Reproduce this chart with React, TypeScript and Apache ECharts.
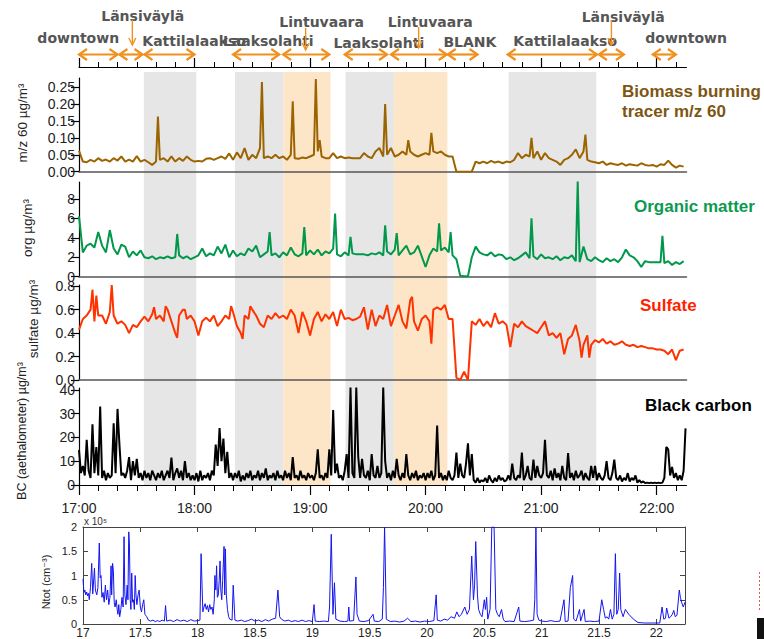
import React, { useEffect, useRef } from 'react';
import * as echarts from 'echarts';

// ---------- DATA (time in minutes after 17:00) ----------
// Biomass burning tracer m/z 60, µg/m³, every 2 min from 17:00
const biomassBase = [
  0.062, 0.03, 0.028, 0.035, 0.03, 0.04, 0.032, 0.036, 0.03, 0.04,
  0.033, 0.045, 0.03, 0.036, 0.03, 0.046, 0.03, 0.035, 0.028, 0.02,
  0.03, 0.035, 0.04, 0.03, 0.045, 0.03, 0.04, 0.032, 0.045, 0.035,
  0.03, 0.032, 0.03, 0.038, 0.04, 0.035, 0.04, 0.045, 0.038, 0.054,
  0.035, 0.057, 0.04, 0.07, 0.035, 0.05, 0.04, 0.07, 0.04, 0.045,
  0.04, 0.05, 0.04, 0.045, 0.035, 0.05, 0.04, 0.038, 0.042, 0.04,
  0.045, 0.05, 0.06, 0.045, 0.04, 0.04, 0.055, 0.04, 0.045, 0.04,
  0.042, 0.04, 0.04, 0.04, 0.055, 0.045, 0.04, 0.06, 0.07, 0.045,
  0.05, 0.07, 0.045, 0.05, 0.06, 0.05, 0.06, 0.05, 0.045, 0.05,
  0.055, 0.05, 0.06, 0.055, 0.06, 0.05, 0.045, 0.045, 0.0, 0.0,
  0.0, 0.0, 0.0, 0.03, 0.025, 0.03, 0.025, 0.032, 0.027, 0.03,
  0.025, 0.03, 0.028, 0.035, 0.055, 0.04, 0.05, 0.045, 0.04, 0.06,
  0.035, 0.055, 0.04, 0.035, 0.03, 0.02, 0.035, 0.04, 0.05, 0.066,
  0.04, 0.06, 0.035, 0.03, 0.028, 0.025, 0.03, 0.02, 0.025, 0.022,
  0.02, 0.025, 0.018, 0.022, 0.02, 0.018, 0.025, 0.02, 0.018, 0.02,
  0.015, 0.022, 0.02, 0.033, 0.02, 0.012, 0.018, 0.015,
];
const biomassSpikes: [number, number][] = [
  [41, 0.163], [95, 0.265], [111, 0.208], [123, 0.274], [125, 0.093],
  [159, 0.2], [171, 0.093], [183, 0.115], [235, 0.1], [263, 0.11],
];

// Organic matter, µg/m³, every 2 min
const organicBase = [
  6.2, 2.5, 3.2, 3.4, 3.0, 4.6, 3.2, 2.5, 4.8, 2.9,
  2.3, 3.3, 3.1, 2.0, 2.6, 2.2, 2.7, 2.0, 1.9, 2.1,
  1.8, 2.0, 1.9, 2.1, 1.9, 2.0, 2.2, 1.9, 2.1, 1.8,
  2.0, 2.2, 2.9, 2.1, 2.4, 2.2, 3.1, 2.4, 3.3, 2.0,
  2.7, 2.1, 2.4, 2.2, 2.9, 2.6, 3.2, 2.0, 2.3, 2.6,
  2.2, 2.4, 2.0, 2.5, 2.2, 3.0, 2.3, 2.1, 2.4, 2.2,
  2.7, 2.3, 2.8, 2.2, 2.6, 2.4, 2.9, 2.3, 2.1, 2.5,
  2.2, 2.4, 2.3, 2.3, 2.3, 2.2, 2.4, 2.3, 2.5, 2.2,
  2.6, 2.3, 2.8, 2.2, 2.7, 3.2, 2.3, 2.5, 3.2, 2.1,
  1.0, 2.2, 2.9, 2.6, 2.7, 3.0, 2.5, 2.2, 1.8, 0.1,
  0.05, 0.05, 2.0, 3.1, 2.5, 2.3, 2.2, 2.5, 2.1, 2.3,
  2.2, 1.8, 2.0, 1.7, 1.9, 2.2, 2.5, 1.9, 2.1, 1.8,
  2.3, 1.9, 2.0, 1.8, 2.1, 1.7, 2.0, 1.9, 2.2, 1.6,
  1.5, 3.1, 1.8, 1.6, 2.0, 1.7, 1.5, 1.9, 1.6, 1.8,
  1.5, 2.0, 2.8, 2.2, 2.0, 1.6, 1.0, 1.6, 1.5, 1.5,
  1.5, 1.5, 1.4, 1.6, 1.2, 1.5, 1.3, 1.6,
];
const organicSpikes: [number, number][] = [
  [51, 4.4], [99, 4.6], [117, 5.1], [133, 6.5], [141, 4.1], [159, 5.3],
  [165, 4.5], [187, 5.5], [193, 4.6], [235, 6.0], [259, 9.8], [303, 4.2],
];

// Sulfate, µg/m³, every 2 min
const sulfateBase = [
  0.43, 0.52, 0.55, 0.6, 0.5, 0.55, 0.55, 0.48, 0.58, 0.55,
  0.48, 0.5, 0.47, 0.4, 0.47, 0.45, 0.5, 0.54, 0.5, 0.56,
  0.52, 0.55, 0.5, 0.6, 0.5, 0.4, 0.55, 0.6, 0.52, 0.55,
  0.5, 0.38, 0.5, 0.53, 0.5, 0.55, 0.46, 0.5, 0.55, 0.52,
  0.58, 0.46, 0.4, 0.55, 0.52, 0.6, 0.55, 0.48, 0.45, 0.55,
  0.52, 0.57, 0.53, 0.55, 0.52, 0.6, 0.55, 0.4, 0.58, 0.5,
  0.38, 0.52, 0.58, 0.5, 0.56, 0.52, 0.58, 0.46, 0.6, 0.52,
  0.53, 0.51, 0.52, 0.54, 0.62, 0.43, 0.6, 0.46, 0.55, 0.52,
  0.64, 0.46, 0.55, 0.64, 0.5, 0.44, 0.68, 0.5, 0.42, 0.52,
  0.55, 0.5, 0.6, 0.62, 0.6, 0.64, 0.52, 0.52, 0.02, 0.0,
  0.07, 0.0, 0.5, 0.47, 0.52, 0.46, 0.5, 0.45, 0.57, 0.48,
  0.5, 0.47, 0.28, 0.48, 0.45, 0.5, 0.46, 0.44, 0.42, 0.4,
  0.45, 0.5, 0.38, 0.4, 0.36, 0.4, 0.22, 0.35, 0.38, 0.47,
  0.33, 0.3, 0.38, 0.3, 0.34, 0.32, 0.35, 0.31, 0.33, 0.3,
  0.31, 0.33, 0.3, 0.29, 0.3, 0.28, 0.29, 0.28, 0.27, 0.27,
  0.26, 0.26, 0.25, 0.22, 0.26, 0.17, 0.25, 0.26,
];
const sulfateSpikes: [number, number][] = [
  [7, 0.77], [9, 0.72], [17, 0.81], [39, 0.62], [45, 0.63], [51, 0.36],
  [55, 0.6], [79, 0.63], [85, 0.35], [89, 0.63], [173, 0.71], [183, 0.31],
  [261, 0.19], [265, 0.19],
];

// Black carbon (aethalometer), µg/m³, every minute from 17:00
const blackCarbon = [
  14.7, 5, 8, 4, 19, 6, 3, 25.5, 5, 16, 4, 33, 3, 6, 2, 5, 3, 4, 26, 5,
  32, 17, 4, 5, 3, 6, 11.7, 2, 10, 4, 11, 3, 5, 2, 6, 3, 5, 2, 6, 4,
  2, 5, 3, 6, 2, 4, 6, 3, 11.5, 2, 5, 7, 3, 6, 2, 10, 3, 5, 2, 4,
  2, 5, 1.5, 6, 2, 4, 3, 5, 2, 6, 4, 17, 8, 24, 10, 19.5, 5, 14, 3, 5,
  2, 5, 3, 6, 1.5, 4, 2, 5, 3, 6, 2, 4, 3, 6, 2, 5, 3, 7, 2, 4,
  3, 5, 2, 6, 3, 4, 2, 6, 3, 5, 2, 11.7, 3, 4, 2, 6, 3, 4, 2, 5,
  3, 4, 2, 5, 15, 3, 4, 2, 5, 3, 15, 4, 31.5, 5, 9, 3, 4, 2, 6, 13,
  3, 41, 5, 3, 41, 12, 3, 11, 4, 3, 6, 2, 13, 4, 3, 8, 3, 5, 41, 10,
  3, 5, 2, 6, 3, 11, 4, 2, 5, 3, 13, 4, 2, 5, 3, 6, 2, 4, 3, 5,
  2, 5, 3, 6, 2, 4, 25, 3, 5, 2, 4, 2, 6, 3, 2, 4, 13.6, 3, 9, 4,
  3, 9, 17.5, 4, 13, 2, 1, 3, 1, 2, 1.5, 3, 1, 4, 2, 1, 3, 1.5, 4, 2,
  3, 1.5, 2, 4, 2, 9, 3, 2, 4, 3, 13.6, 2, 4, 8, 3, 2, 10.7, 3, 8, 4,
  3, 5, 19, 4, 3, 6, 2, 7, 3, 5, 2, 8, 3, 2, 13.4, 3, 5, 2, 6, 3,
  4, 6, 2, 5, 3, 2, 8, 3, 8, 2, 5, 3, 2, 4, 10, 3, 2, 5, 10.7, 3,
  2, 4, 1.5, 3, 2, 5, 1.5, 3, 2, 4, 1, 2, 1, 1.5, 0.8, 1, 0.8, 1, 0.8, 1,
  0.8, 1, 0.8, 1, 3, 16, 15, 4, 7.6, 3, 5, 2, 4, 2, 6, 23.8,
];

// Ntot (×10^5 cm⁻³) vs decimal hour
const ntot: [number, number][] = [
  [17.0, 0.93], [17.008, 0.65], [17.016, 0.7], [17.024, 0.6], [17.032, 0.66], [17.04, 0.58],
  [17.048, 0.63], [17.055, 0.5], [17.065, 0.75], [17.076, 1.25], [17.085, 0.62], [17.1, 1.15],
  [17.108, 0.7], [17.12, 0.6], [17.13, 0.75], [17.142, 1.67], [17.15, 0.95], [17.157, 1.0],
  [17.165, 0.55], [17.175, 0.65], [17.185, 0.45], [17.195, 0.8], [17.205, 0.5], [17.215, 0.7],
  [17.225, 0.4], [17.235, 0.55], [17.245, 1.2], [17.25, 0.6], [17.258, 1.25], [17.265, 1.1],
  [17.272, 0.45], [17.28, 0.35], [17.29, 0.5], [17.298, 0.3], [17.305, 0.2], [17.312, 0.4],
  [17.32, 0.15], [17.33, 0.3], [17.34, 0.55], [17.35, 0.35], [17.358, 1.8], [17.365, 0.6],
  [17.375, 0.4], [17.385, 0.8], [17.392, 0.5], [17.399, 1.9], [17.405, 1.65], [17.412, 0.5],
  [17.418, 0.3], [17.425, 1.05], [17.432, 0.45], [17.44, 0.5], [17.448, 0.3], [17.455, 1.0],
  [17.462, 0.6], [17.47, 0.4], [17.48, 0.6], [17.49, 0.7], [17.5, 0.35], [17.51, 0.25],
  [17.52, 0.4], [17.53, 0.5], [17.54, 0.2], [17.556, 0.15], [17.57, 0.08], [17.59, 0.06],
  [17.61, 0.08], [17.63, 0.05], [17.65, 0.07], [17.67, 0.05], [17.69, 0.08], [17.71, 0.06],
  [17.72, 0.38], [17.73, 0.06], [17.76, 0.08], [17.79, 0.05], [17.82, 0.09], [17.85, 0.06],
  [17.88, 0.08], [17.91, 0.05], [17.94, 0.09], [17.97, 0.06], [18.0, 0.07], [18.02, 0.08],
  [18.03, 1.45], [18.045, 0.25], [18.055, 0.35], [18.065, 0.42], [18.075, 0.3], [18.085, 0.38],
  [18.095, 0.25], [18.105, 0.4], [18.115, 0.3], [18.125, 0.35], [18.135, 0.2], [18.145, 0.5],
  [18.15, 1.0], [18.158, 0.7], [18.165, 1.2], [18.172, 0.55], [18.18, 0.6], [18.188, 0.9],
  [18.195, 1.3], [18.202, 0.7], [18.21, 0.5], [18.218, 0.9], [18.23, 1.6], [18.236, 0.6],
  [18.242, 1.55], [18.25, 0.6], [18.26, 0.3], [18.27, 0.15], [18.28, 0.1], [18.3, 0.08],
  [18.31, 0.8], [18.325, 0.08], [18.35, 0.06], [18.38, 0.08], [18.41, 0.05], [18.44, 0.07],
  [18.47, 0.1], [18.5, 0.06], [18.53, 0.08], [18.56, 0.05], [18.59, 0.09], [18.62, 0.06],
  [18.65, 0.1], [18.68, 0.12], [18.7, 0.7], [18.715, 0.15], [18.73, 0.1], [18.76, 0.06],
  [18.79, 0.08], [18.82, 0.05], [18.85, 0.07], [18.88, 0.05], [18.91, 0.08], [18.94, 0.05],
  [18.97, 0.07], [19.0, 0.05], [19.015, 0.4], [19.025, 0.06], [19.06, 0.05], [19.1, 0.06],
  [19.14, 0.05], [19.15, 0.35], [19.165, 1.85], [19.18, 0.2], [19.193, 0.85], [19.205, 0.1],
  [19.24, 0.06], [19.28, 0.05], [19.31, 0.06], [19.318, 0.35], [19.325, 0.06], [19.36, 0.07],
  [19.38, 0.97], [19.39, 0.2], [19.41, 0.06], [19.45, 0.05], [19.49, 0.07], [19.53, 0.2],
  [19.54, 0.06], [19.58, 0.05], [19.61, 0.1], [19.62, 0.75], [19.63, 2.0], [19.635, 1.45],
  [19.645, 0.1], [19.68, 0.05], [19.72, 0.06], [19.76, 0.04], [19.8, 0.06], [19.83, 0.12],
  [19.86, 0.05], [19.9, 0.06], [19.94, 0.04], [19.98, 0.06], [20.02, 0.05], [20.06, 0.07],
  [20.08, 0.6], [20.09, 0.08], [20.12, 0.06], [20.15, 0.1], [20.18, 0.08], [20.21, 0.15],
  [20.24, 0.12], [20.26, 0.25], [20.28, 0.15], [20.3, 0.2], [20.33, 0.35], [20.35, 0.2],
  [20.37, 0.3], [20.39, 1.4], [20.405, 0.5], [20.415, 0.8], [20.425, 1.7], [20.44, 0.6],
  [20.45, 0.3], [20.465, 0.2], [20.48, 0.15], [20.5, 0.5], [20.51, 0.3], [20.52, 0.55],
  [20.53, 0.1], [20.55, 0.3], [20.565, 2.0], [20.585, 2.0], [20.6, 0.3], [20.615, 0.2],
  [20.63, 0.15], [20.65, 0.3], [20.665, 0.1], [20.68, 0.05], [20.72, 0.06], [20.76, 0.05],
  [20.8, 0.35], [20.81, 0.06], [20.85, 0.05], [20.89, 0.06], [20.93, 0.08], [20.94, 0.5],
  [20.95, 2.0], [20.96, 0.2], [20.975, 0.08], [21.0, 0.06], [21.04, 0.05], [21.08, 0.07],
  [21.12, 0.05], [21.16, 0.06], [21.195, 0.5], [21.205, 0.05], [21.23, 0.06], [21.25, 0.75],
  [21.27, 1.0], [21.28, 0.1], [21.3, 0.06], [21.33, 0.3], [21.34, 0.06], [21.37, 0.3],
  [21.38, 0.05], [21.42, 0.06], [21.46, 0.05], [21.5, 0.06], [21.524, 0.5], [21.54, 0.3],
  [21.555, 0.12], [21.57, 0.15], [21.585, 0.1], [21.6, 0.3], [21.615, 0.1], [21.63, 0.2],
  [21.643, 1.45], [21.655, 0.2], [21.668, 0.3], [21.68, 1.05], [21.69, 0.3], [21.71, 0.15],
  [21.73, 0.3], [21.76, 0.2], [21.8, 0.1], [21.84, 0.03], [21.9, 0.02], [21.96, 0.02],
  [22.03, 0.02], [22.05, 0.35], [22.065, 0.1], [22.08, 0.12], [22.09, 0.33], [22.11, 0.12],
  [22.125, 0.15], [22.14, 0.2], [22.152, 0.28], [22.165, 0.15], [22.18, 0.18], [22.2, 0.7],
  [22.21, 0.55], [22.22, 0.45], [22.235, 0.35], [22.25, 0.45],
];

// Route segments along the drive (minutes after 17:00)
const routeSegments = [
  { name: 'downtown', start: 0, end: 20 },
  { name: 'Länsiväylä', start: 21, end: 33 },
  { name: 'Kattilalaakso', start: 34, end: 60 },
  { name: 'Laaksolahti', start: 80, end: 104 },
  { name: 'Lintuvaara', start: 106, end: 130 },
  { name: 'Laaksolahti', start: 138, end: 160 },
  { name: 'Lintuvaara', start: 162, end: 191 },
  { name: 'BLANK', start: 191.5, end: 207 },
  { name: 'Kattilalaakso', start: 222.6, end: 269 },
  { name: 'Länsiväylä', start: 270, end: 283 },
  { name: 'downtown', start: 298, end: 310 },
];
// Shaded periods: [start, end, kind] kind 0 = grey, 1 = orange
const shadedPeriods: [number, number, number][] = [
  [33.7, 60.9, 0], [81, 106.2, 0], [106.2, 130.6, 1],
  [138.4, 163.5, 0], [163.5, 191.3, 1], [223.1, 268.6, 0],
];

const hourTicks = [0, 60, 120, 180, 240, 300];
const tenMinTicks = [0, 10, 20, 30, 40, 50, 60, 70, 80, 90, 100, 110, 120, 130, 140, 150, 160,
  170, 180, 190, 200, 210, 220, 230, 240, 250, 260, 270, 280, 290, 300, 310];
const biomassTicks = [0, 0.05, 0.1, 0.15, 0.2, 0.25];
const organicTicks = [0, 2, 4, 6, 8];
const sulfateTicks = [0, 0.2, 0.4, 0.6, 0.8];
const bcTicks = [0, 10, 20, 30, 40];
const ntotYTicks = [0, 0.5, 1, 1.5, 2];
const ntotXTicks = [17, 17.5, 18, 18.5, 19, 19.5, 20, 20.5, 21, 21.5, 22];

// ---------- LAYOUT / STYLE ----------
const X_MAX = 315.5;
const ARROW_Y = 54.5;
const ORANGE = '#f0901e';
// label layout per route segment: [centre time, y row]
const labelLayout: [number, number][] = [
  [-0.4, 38], [33.1, 16], [59.8, 41], [98.3, 41], [126, 22], [155.7, 43],
  [182.4, 22], [203, 42], [252.5, 41], [282.6, 17], [315.3, 38],
];
// down arrows [time, y1, y2]
const downArrows: [number, number, number][] = [
  [27.7, 20, 45], [117.7, 28, 50], [176.4, 27, 48], [276.5, 20, 45],
];

const SANS = '"Liberation Sans", Arial, "DejaVu Sans", sans-serif';

function merge(base: number[], spikes: [number, number][]): [number, number][] {
  const pts: [number, number][] = base.map((v, i) => [i * 2, v]);
  return [...pts, ...spikes].sort((a, b) => a[0] - b[0]);
}

const hourLabel = (v: number) => `${17 + Math.round(v / 60)}:00`;

export default function App() {
  const ref = useRef<HTMLDivElement>(null);

  useEffect(() => {
    if (!ref.current) return;
    const chart = echarts.init(ref.current, undefined, { renderer: 'svg', width: 764, height: 639 });

    const mainGrid = { left: 79, right: 77.5 };
    const grids = [
      { ...mainGrid, top: 0, height: 67 },          // 0 annotation
      { ...mainGrid, top: 78, height: 93.7 },       // 1 biomass
      { ...mainGrid, top: 182, height: 94.7 },      // 2 organic
      { ...mainGrid, top: 285, height: 95 },        // 3 sulfate
      { ...mainGrid, top: 388, height: 97 },        // 4 BC
      { ...mainGrid, top: 72, height: 413 },        // 5 shading background
      { left: 83, right: 79, top: 527, height: 102 }, // 6 Ntot
    ];

    const timeAxisBase = (gridIndex: number) => ({
      type: 'value', gridIndex, min: 0, max: X_MAX, z: 1,
      splitLine: { show: false },
    });
    const zeroLineAxis = (gridIndex: number) => ({
      ...timeAxisBase(gridIndex), position: 'bottom',
      axisLine: { show: true, onZero: false, lineStyle: { color: '#555', width: 1.5 } },
      axisTick: { show: false }, axisLabel: { show: false },
    });

    const xAxis: any[] = [
      { // 0 annotation axis: hour ticks pointing up
        ...timeAxisBase(0), position: 'bottom',
        axisLine: { show: true, onZero: false, lineStyle: { color: '#000', width: 1.2 } },
        axisTick: { show: true, inside: true, length: 9, customValues: hourTicks, lineStyle: { color: '#000', width: 1.2 } },
        axisLabel: { show: false },
      },
      { // 1 annotation axis: 10-min ticks
        ...timeAxisBase(0), position: 'bottom',
        axisLine: { show: false, onZero: false },
        axisTick: { show: true, inside: true, length: 5, customValues: tenMinTicks, lineStyle: { color: '#000', width: 1 } },
        axisLabel: { show: false },
      },
      zeroLineAxis(1), // 2
      zeroLineAxis(2), // 3
      zeroLineAxis(3), // 4
      { // 5 BC axis with hour labels
        ...timeAxisBase(4), position: 'bottom',
        axisLine: { show: true, onZero: false, lineStyle: { color: '#000', width: 1.2 } },
        axisTick: { show: true, length: 10, customValues: hourTicks, lineStyle: { color: '#000', width: 1.2 } },
        axisLabel: {
          show: true, customValues: hourTicks, margin: 16, fontSize: 14, color: '#222', fontFamily: SANS,
          formatter: (v: number) => (v % 60 === 0 ? hourLabel(v) : ''),
        },
      },
      { // 6 BC 10-min ticks
        ...timeAxisBase(4), position: 'bottom',
        axisLine: { show: false, onZero: false },
        axisTick: { show: true, length: 6, customValues: tenMinTicks, lineStyle: { color: '#000', width: 1 } },
        axisLabel: { show: false },
      },
      { ...timeAxisBase(5), show: false }, // 7 shading
      { // 8 Ntot bottom
        type: 'value', gridIndex: 6, min: 17, max: 22.25, position: 'bottom', z: 1,
        splitLine: { show: false },
        axisLine: { show: true, onZero: false, lineStyle: { color: '#444', width: 1 } },
        axisTick: { show: true, inside: true, length: 5, customValues: ntotXTicks, lineStyle: { color: '#444' } },
        axisLabel: {
          show: true, customValues: ntotXTicks, margin: 3, fontSize: 12, color: '#222', fontFamily: SANS,
          formatter: (v: number) => (ntotXTicks.includes(v) ? String(v) : ''),
        },
      },
      { // 9 Ntot top
        type: 'value', gridIndex: 6, min: 17, max: 22.25, position: 'top', z: 1,
        splitLine: { show: false },
        axisLine: { show: true, onZero: false, lineStyle: { color: '#444', width: 1 } },
        axisTick: { show: true, inside: true, length: 5, customValues: ntotXTicks, lineStyle: { color: '#444' } },
        axisLabel: { show: false },
      },
    ];

    const valueAxis = (gridIndex: number, max: number, ticks: number[], digits: number) => ({
      type: 'value', gridIndex, min: 0, max, position: 'left', z: 1,
      splitLine: { show: false },
      axisLine: { show: true, onZero: false, lineStyle: { color: '#000', width: 1.2 } },
      axisTick: { show: true, length: 8, customValues: ticks, lineStyle: { color: '#000', width: 1.2 } },
      axisLabel: {
        show: true, customValues: ticks, margin: 4, fontSize: 14, color: '#222', fontFamily: SANS,
        formatter: (v: number) => (ticks.some((t) => Math.abs(t - v) < 1e-9) ? v.toFixed(digits) : ''),
      },
    });

    const yAxis: any[] = [
      { type: 'value', gridIndex: 0, min: 0, max: 67, inverse: true, show: false },
      valueAxis(1, 0.277, biomassTicks, 2),
      valueAxis(2, 9.75, organicTicks, 0),
      valueAxis(3, 0.81, sulfateTicks, 1),
      valueAxis(4, 40.8, bcTicks, 0),
      { type: 'value', gridIndex: 5, min: 0, max: 1, show: false },
      {
        type: 'value', gridIndex: 6, min: 0, max: 2, position: 'left', z: 1,
        splitLine: { show: false },
        axisLine: { show: true, onZero: false, lineStyle: { color: '#444', width: 1 } },
        axisTick: { show: true, inside: true, length: 5, customValues: ntotYTicks, lineStyle: { color: '#444' } },
        axisLabel: {
          show: true, customValues: ntotYTicks, margin: 6, fontSize: 11, color: '#222', fontFamily: SANS,
          formatter: (v: number) => (ntotYTicks.includes(v) ? String(v) : ''),
        },
      },
      {
        type: 'value', gridIndex: 6, min: 0, max: 2, position: 'right', z: 1,
        splitLine: { show: false },
        axisLine: { show: true, onZero: false, lineStyle: { color: '#444', width: 1 } },
        axisTick: { show: true, inside: true, length: 5, customValues: ntotYTicks, lineStyle: { color: '#444' } },
        axisLabel: { show: false },
      },
    ];

    const lineSeries = (name: string, xi: number, yi: number, data: any[], color: string, width: number) => ({
      name, type: 'line', xAxisIndex: xi, yAxisIndex: yi, data, showSymbol: false, symbol: 'none',
      lineStyle: { color, width }, itemStyle: { color }, z: 2, silent: true, clip: true,
    });

    const series: any[] = [
      {
        type: 'custom', xAxisIndex: 7, yAxisIndex: 5, data: shadedPeriods, z: 0, silent: true,
        renderItem: (params: any, api: any) => {
          const p1 = api.coord([api.value(0), 1]);
          const p2 = api.coord([api.value(1), 0]);
          return {
            type: 'rect',
            shape: { x: p1[0], y: p1[1], width: p2[0] - p1[0], height: p2[1] - p1[1] },
            style: { fill: api.value(2) === 1 ? '#fde6c8' : '#e6e6e6' },
          };
        },
      },
      lineSeries('Biomass burning tracer m/z 60', 2, 1, merge(biomassBase, biomassSpikes), '#9c6400', 2),
      lineSeries('Organic matter', 3, 2, merge(organicBase, organicSpikes), '#00984a', 2),
      lineSeries('Sulfate', 4, 3, merge(sulfateBase, sulfateSpikes), '#ff3300', 2),
      lineSeries('Black carbon', 5, 4, blackCarbon.map((v, i) => [i, v]), '#000000', 2),
      lineSeries('Ntot', 8, 6, ntot, '#1414f0', 1),
      { // route arrows
        type: 'custom', xAxisIndex: 0, yAxisIndex: 0, z: 5, silent: true,
        data: routeSegments.map((s) => [s.start, s.end]),
        renderItem: (params: any, api: any) => {
          const a = api.coord([api.value(0), ARROW_Y]);
          const b = api.coord([api.value(1), ARROW_Y]);
          const h = 5.5, w = 8;
          const st = { stroke: ORANGE, lineWidth: 2.2, fill: 'none' };
          return {
            type: 'group',
            children: [
              { type: 'line', shape: { x1: a[0], y1: a[1], x2: b[0], y2: b[1] }, style: st },
              { type: 'polyline', shape: { points: [[a[0] + w, a[1] - h], [a[0], a[1]], [a[0] + w, a[1] + h]] }, style: st },
              { type: 'polyline', shape: { points: [[b[0] - w, b[1] - h], [b[0], b[1]], [b[0] - w, b[1] + h]] }, style: st },
            ],
          };
        },
      },
      { // down arrows
        type: 'custom', xAxisIndex: 0, yAxisIndex: 0, z: 6, silent: true,
        data: downArrows,
        renderItem: (params: any, api: any) => {
          const t = api.coord([api.value(0), api.value(1)]);
          const b = api.coord([api.value(0), api.value(2)]);
          const st = { stroke: ORANGE, lineWidth: 1.4, fill: 'none' };
          return {
            type: 'group',
            children: [
              { type: 'line', shape: { x1: t[0], y1: t[1], x2: b[0], y2: b[1] }, style: st },
              { type: 'polyline', shape: { points: [[b[0] - 3.5, b[1] - 7], [b[0], b[1]], [b[0] + 3.5, b[1] - 7]] }, style: st },
            ],
          };
        },
      },
      { // route labels
        type: 'custom', xAxisIndex: 0, yAxisIndex: 0, z: 5, silent: true,
        data: labelLayout,
        renderItem: (params: any, api: any) => {
          const p = api.coord([api.value(0), api.value(1)]);
          return {
            type: 'text', x: p[0], y: p[1],
            style: {
              text: routeSegments[params.dataIndex].name,
              fill: '#555555', font: 'bold 14px "DejaVu Sans", Verdana, sans-serif',
              align: 'center', verticalAlign: 'middle', textAlign: 'center', textVerticalAlign: 'middle',
            },
          };
        },
      },
    ];

    const rotText = (text: string, x: number, y: number, size: number) => ({
      type: 'text', x, y, rotation: Math.PI / 2, silent: true, z: 10,
      style: {
        text, fill: '#222', font: `${size}px ${SANS}`,
        align: 'center', verticalAlign: 'middle', textAlign: 'center', textVerticalAlign: 'middle',
      },
    });
    const seriesLabel = (text: string, x: number, y: number, color: string) => ({
      type: 'text', x, y, silent: true, z: 10,
      style: {
        text, fill: color, font: `bold 17px ${SANS}`, lineHeight: 20,
        align: 'left', verticalAlign: 'middle', textAlign: 'left', textVerticalAlign: 'middle',
      },
    });

    const graphic: any[] = [
      rotText('m/z 60 µg/m³', 22, 123, 13.5),
      rotText('org µg/m³', 27, 228, 13.5),
      rotText('sulfate µg/m³', 33, 319, 13.5),
      rotText('BC (aethalometer) µg/m³', 22, 431, 12.5),
      rotText('Ntot (cm⁻³)', 46, 582, 11),
      seriesLabel('Biomass burning\ntracer m/z 60', 622, 101, '#7d5611'),
      seriesLabel('Organic matter', 634, 206, '#0c9a50'),
      seriesLabel('Sulfate', 640, 305, '#ff2200'),
      seriesLabel('Black carbon', 645, 405, '#000000'),
      {
        type: 'text', x: 84, y: 521, silent: true, z: 10,
        style: {
          text: 'x 10⁵', fill: '#333', font: `10px ${SANS}`,
          align: 'left', verticalAlign: 'middle', textAlign: 'left', textVerticalAlign: 'middle',
        },
      },
      { type: 'line', silent: true, shape: { x1: 759.5, y1: 572, x2: 759.5, y2: 611 }, style: { stroke: '#e0603a', lineWidth: 1, lineDash: [2, 2] } },
      { type: 'rect', silent: true, shape: { x: 757, y: 618, width: 7, height: 21 }, style: { fill: '#111' } },
    ];

    chart.setOption({
      animation: false,
      backgroundColor: '#ffffff',
      grid: grids,
      xAxis,
      yAxis,
      series,
      graphic,
    });

    return () => chart.dispose();
  }, []);

  return (
    <div
      ref={ref}
      style={{ position: 'fixed', left: 0, top: 0, width: 764, height: 639, background: '#fff' }}
    />
  );
}
